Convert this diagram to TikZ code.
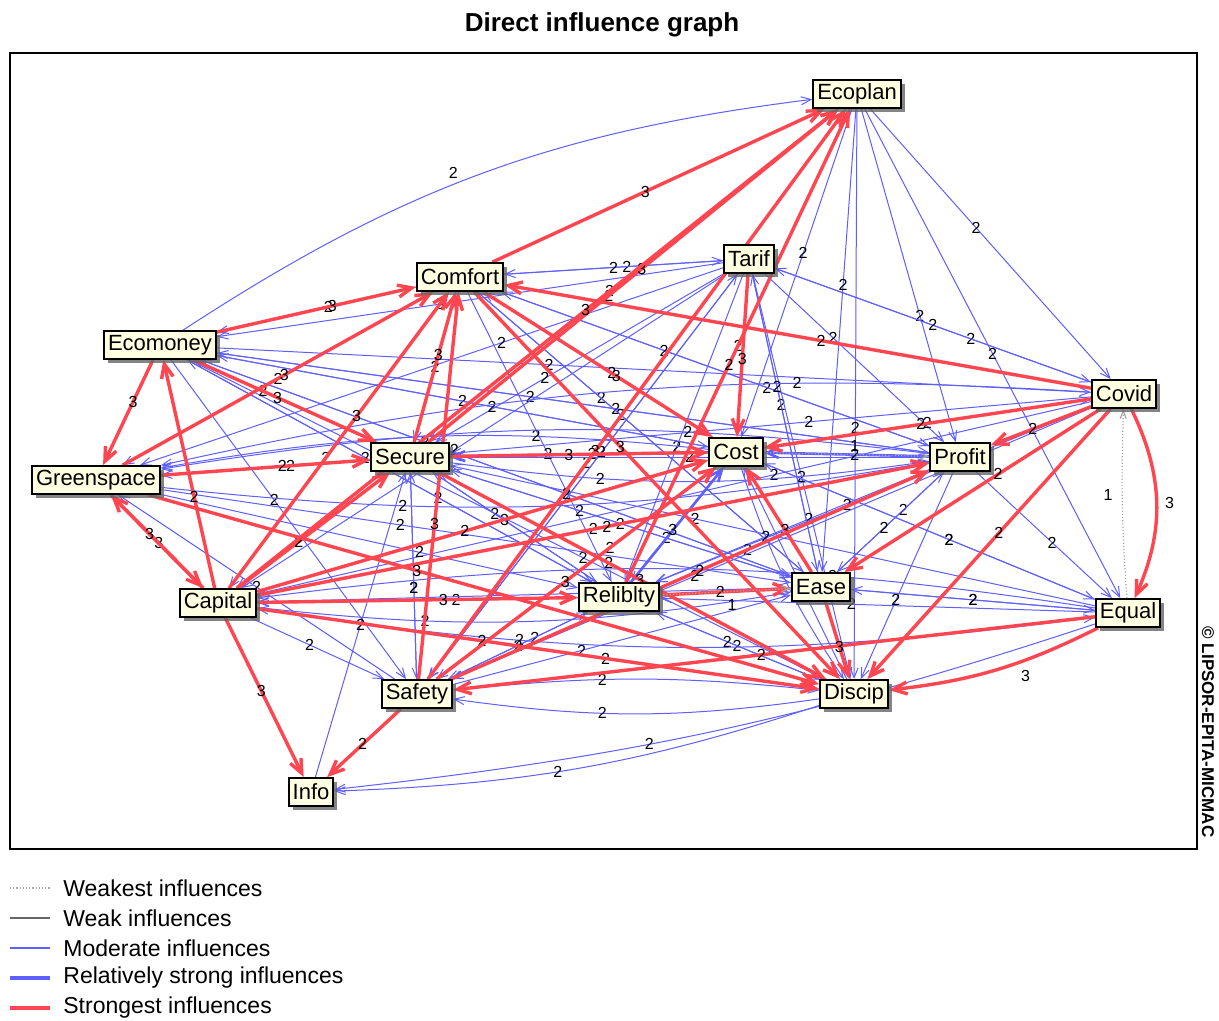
\documentclass[tikz,border=0pt]{standalone}
\usepackage{fontspec}
\setmainfont{Liberation Sans}
\usetikzlibrary{arrows.meta,shadows}

\definecolor{infblue}{RGB}{95,95,255}
\definecolor{infred}{RGB}{255,70,80}
\definecolor{notefill}{RGB}{255,255,225}

\pgfdeclarelayer{bg}
\pgfdeclarelayer{edges}
\pgfsetlayers{bg,edges,main}

\tikzset{
  factor/.style={draw=black, line width=0.9pt, fill=notefill, inner xsep=2pt, inner ysep=1.5pt,
    minimum height=14pt, font=\fontsize{11}{12}\selectfont,
    drop shadow={shadow xshift=2pt, shadow yshift=-2pt, fill=black!60, opacity=.8}},
  moderate/.style={draw=infblue, line width=0.5pt, -{Straight Barb[length=5pt,width=4pt]}},
  relstrong/.style={draw=infblue, line width=1.3pt, -{Straight Barb[length=6pt,width=5pt]}},
  strongest/.style={draw=infred, line width=1.7pt, -{Straight Barb[length=7pt,width=6pt]}},
  weakest/.style={draw=black!35, densely dotted, line width=0.6pt, -{Straight Barb[length=4pt,width=3pt]}},
  val/.style={font=\fontsize{8}{9}\selectfont, text=black, inner sep=0.5pt},
  legtext/.style={anchor=west, font=\fontsize{11.5}{12}\selectfont, inner sep=0pt}
}

\begin{document}
\begin{tikzpicture}[x=0.5pt,y=-0.5pt]
\useasboundingbox (0,0) rectangle (1219,1021);
\begin{pgfonlayer}{bg}
\fill[white] (0,0) rectangle (1219,1021);
\end{pgfonlayer}

% title and frame
\node[font=\fontsize{13}{15}\selectfont\bfseries] (title) at (602,25) {Direct influence graph};
\draw[line width=0.75pt] (10,53) rectangle (1197,849);
\node[rotate=-90, font=\fontsize{8.5}{9}\selectfont\bfseries, inner sep=0pt] (copy) at (1208,732) {© LIPSOR-EPITA-MICMAC};

% factors
\node[factor] (EP) at (857,94) {Ecoplan};
\node[factor] (TA) at (749,259) {Tarif};
\node[factor] (CF) at (460,277) {Comfort};
\node[factor] (EM) at (160,345) {Ecomoney};
\node[factor] (CV) at (1124,394) {Covid};
\node[factor] (GS) at (96,480) {Greenspace};
\node[factor] (SE) at (410,457) {Secure};
\node[factor] (CO) at (736,452) {Cost};
\node[factor] (PR) at (960,457) {Profit};
\node[factor] (CA) at (218,603) {Capital};
\node[factor] (RE) at (619,597) {Reliblty};
\node[factor] (EA) at (821,587) {Ease};
\node[factor] (EQ) at (1128,613) {Equal};
\node[factor] (SA) at (417,694) {Safety};
\node[factor] (DI) at (854,694) {Discip};
\node[factor] (IN) at (311,792) {Info};

\begin{pgfonlayer}{edges}
% moderate influences
\foreach \a/\b/\v [count=\i] in {EP/CV/2, EP/EQ/2, EP/DI/2, EP/PR/2, EP/EA/2, EP/CO/2, EP/RE/2, EP/SE/2, EP/SA/2, EP/CA/2,
    TA/CF/2, CF/TA/2, TA/EM/3, TA/SE/2, TA/PR/2, TA/EA/2, TA/DI/2, TA/RE/2, TA/CV/2, TA/GS/2, TA/SA/2,
    CF/SE/2, CF/RE/2, CF/PR/2, CF/EA/2, CF/EM/2, CF/GS/2, CF/CA/2,
    EM/RE/2, EM/EA/2, EM/SA/2, EM/CO/2, EM/PR/2, EM/DI/2, EM/CV/2,
    CO/EM/2, CO/CV/2, CO/EQ/2, CO/RE/2, CO/SA/2, CO/CF/2,
    PR/SE/2, PR/EQ/2, PR/DI/2, PR/EA/2, PR/RE/2, PR/CA/2, PR/EM/2, PR/CF/2, PR/SA/2,
    CV/SE/2, CV/TA/2, CV/RE/2, CV/SA/2, CV/CA/2,
    EQ/CO/2, EQ/EA/2, EQ/RE/2, EQ/SE/2,
    DI/CA/2, DI/CO/2, DI/RE/2, DI/SE/2,
    SA/RE/2, SA/EA/2, SA/SE/2, SA/GS/2, SA/TA/2,
    RE/SE/2, RE/CA/2, RE/DI/2, RE/SA/2, RE/EM/2,
    EA/SE/2, EA/CA/2, EA/PR/2, EA/EQ/2, EA/CF/2, EA/TA/2, EA/EM/2,
    SE/RE/3, SE/EA/2, SE/SA/2, SE/EM/2, SE/GS/2,
    CA/SA/2, IN/SE/2, TA/CA/2,
    GS/RE/2, GS/EA/2}
{
  \pgfmathsetmacro\pp{.38+.06*mod(\i,5)}
  \draw[moderate] (\a) -- (\b) node[val,pos=\pp] {\v};
}
\foreach \a/\b/\v in {SE/PR/2, GS/PR/2, CA/EQ/2, EQ/CA/2, CA/EA/2, CO/DI/2, CO/GS/2, CV/GS/2, PR/GS/2}
  \draw[moderate] (\a) to[bend right=8] node[val,pos=.3] {\v} (\b);
\draw[moderate] (EM) to[bend left=13] node[val,pos=.45,above=2pt] {2} (EP);
\draw[moderate] (DI) to[bend left=8] node[val,pos=.55] {2} (IN);
\draw[moderate] (EQ) to[bend left=6] node[val,pos=.6] {2} (IN);
\draw[moderate] (DI) to[bend left=8] node[val,pos=.6] {2} (SA);
\draw[moderate] (SA) to[bend left=6] node[val,pos=.4] {2} (DI);

% relatively strong influences
\foreach \a/\b/\v in {CO/SE/2, PR/CO/2, RE/CO/3}
  \draw[relstrong] (\a) -- (\b) node[val,pos=.45] {\v};

% strongest influences
\foreach \a/\b/\v [count=\i] in {CF/EP/3, SE/EP/3, CA/EP/3, SA/EP/3, RE/EP/2, GS/CF/3, EM/CF/3,
    EM/GS/3, EM/SE/3, GS/CA/3, CA/GS/3, CA/EM/2, CA/IN/3, SA/IN/2,
    CA/CF/3, CA/SE/2, CA/CO/2, CA/PR/2, CA/RE/3, CA/DI/2,
    SE/CO/3, SE/DI/3, SE/CF/3, SA/CF/3, SA/CO/3, TA/CO/3, CF/CO/3, CF/DI/3,
    CV/CF/2, CV/CO/2, CV/PR/2, CV/EA/2, CV/DI/2, EQ/SA/2,
    EA/DI/3, EA/CO/3, RE/EA/2, SA/PR/2, GS/SE/2, GS/DI/3}
{
  \pgfmathsetmacro\pp{.4+.06*mod(\i,4)}
  \draw[strongest] (\a) -- (\b) node[val,pos=\pp] {\v};
}
\draw[strongest] (CV) to[bend left=25] node[val,right=3pt,pos=.5] {3} (EQ);
\draw[strongest] (EQ) to[bend left=10] node[val,below=4pt,pos=.35] {3} (DI);

% weakest influences
\draw[weakest] (EQ) to[bend left=3] node[val,left=4pt,pos=.55] {1} (CV);
\draw[weakest] (CO) -- (PR) node[val,pos=.55,above=1pt] {1};
\draw[weakest] (RE) -- (EA) node[val,pos=.55,below=3pt] {1};
\end{pgfonlayer}

% legend
\draw[black!35, densely dotted, line width=0.6pt] (10,888) -- (50,888);
\node[legtext] (t1) at (63,888) {Weakest influences};
\draw[black!60, line width=0.7pt] (10,918) -- (50,918);
\node[legtext] (t2) at (63,918) {Weak influences};
\draw[infblue, line width=0.6pt] (10,948) -- (50,948);
\node[legtext] (t3) at (63,948) {Moderate influences};
\draw[infblue, line width=1.6pt] (10,978) -- (50,978);
\node[legtext] (t4) at (63,978) {Relatively strong influences};
\draw[infred, line width=1.7pt] (10,1008) -- (50,1008);
\node[legtext] (t5) at (63,1008) {Strongest influences};
\end{tikzpicture}
\end{document}
